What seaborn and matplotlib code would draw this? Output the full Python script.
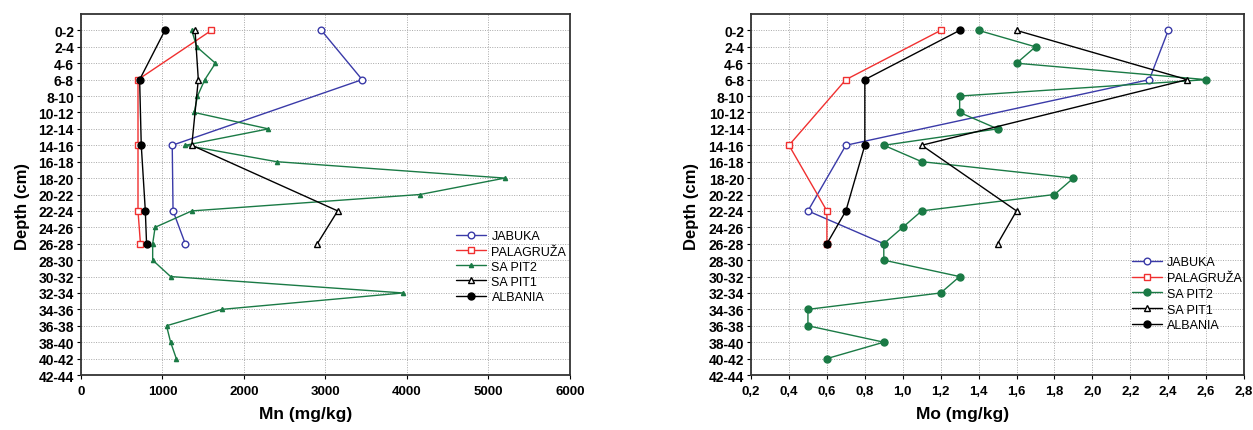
import numpy as np
import pandas as pd
import matplotlib
matplotlib.use("Agg")
import matplotlib.pyplot as plt
import seaborn as sns

# Depth intervals (cm), top to bottom
depths = ["0-2", "2-4", "4-6", "6-8", "8-10", "10-12", "12-14", "14-16",
          "16-18", "18-20", "20-22", "22-24", "24-26", "26-28", "28-30",
          "30-32", "32-34", "34-36", "36-38", "38-40", "40-42", "42-44"]

# Cores sampled at selected depths only
core_depths = ["0-2", "6-8", "14-16", "22-24", "26-28"]

# Mn (mg/kg)
mn_jabuka = [2950, 3450, 1120, 1130, 1280]
mn_palagruza = [1600, 700, 700, 700, 730]
mn_sapit1 = [1400, 1440, 1360, 3150, 2900]
mn_albania = [1030, 720, 740, 790, 805]
mn_sapit2 = [1360, 1420, 1650, 1520, 1430, 1390, 2300, 1280, 2400, 5200,
             4160, 1360, 910, 880, 880, 1100, 3950, 1730, 1050, 1100, 1170]

# Mo (mg/kg)
mo_jabuka = [2.4, 2.3, 0.7, 0.5, 0.9]
mo_palagruza = [1.2, 0.7, 0.4, 0.6, 0.6]
mo_sapit1 = [1.6, 2.5, 1.1, 1.6, 1.5]
mo_albania = [1.3, 0.8, 0.8, 0.7, 0.6]
mo_sapit2 = [1.4, 1.7, 1.6, 2.6, 1.3, 1.3, 1.5, 0.9, 1.1, 1.9,
             1.8, 1.1, 1.0, 0.9, 0.9, 1.3, 1.2, 0.5, 0.5, 0.9, 0.6]

sns.set_theme(style="ticks")
plt.rcParams["font.family"] = ["Liberation Sans", "DejaVu Sans"]
plt.rcParams["text.color"] = "black"
plt.rcParams["axes.labelcolor"] = "black"

pos = {d: i for i, d in enumerate(depths)}
sapit2_depths = depths[:len(mn_sapit2)]

BLUE = "#3a3aa8"
RED = "#f03030"
GREEN = "#1a7a45"
BLACK = "#000000"


def series_frame(names, values):
    return pd.DataFrame({"depth": [pos[n] for n in names], "value": values})


def draw_panel(ax, jab, pal, sp2, sp1, alb, sp2_marker, sp2_ms):
    specs = [
        ("JABUKA", core_depths, jab, BLUE, "o", "white", 4.8),
        ("PALAGRUŽA", core_depths, pal, RED, "s", "white", 4.5),
        ("SA PIT2", sapit2_depths, sp2, GREEN, sp2_marker, GREEN, sp2_ms),
        ("SA PIT1", core_depths, sp1, BLACK, "^", "white", 4.5),
        ("ALBANIA", core_depths, alb, BLACK, "o", BLACK, 5),
    ]
    for label, names, vals, col, mk, mfc, ms in specs:
        df = series_frame(names, vals)
        sns.lineplot(data=df, x="value", y="depth", sort=False, estimator=None,
                     ax=ax, color=col, lw=1.0, marker=mk, markersize=ms,
                     markerfacecolor=mfc, markeredgecolor=col,
                     markeredgewidth=1.0, label=label)
    ax.set_ylim(len(depths) - 1, -1)
    ax.set_yticks(range(len(depths)))
    ax.set_yticklabels(depths)
    ax.grid(True, color="#a8a8a8", linestyle=(0, (1, 1.5)), linewidth=0.7)
    ax.set_axisbelow(True)
    for sp in ax.spines.values():
        sp.set_visible(True)
        sp.set_color("#333333")
        sp.set_linewidth(1.3)
    ax.tick_params(axis="both", length=3, width=0.8, direction="out", pad=2,
                   colors="black")
    ax.tick_params(axis="y", labelsize=10)
    ax.tick_params(axis="x", labelsize=9.5, pad=4)
    for t in ax.get_xticklabels() + ax.get_yticklabels():
        t.set_fontweight("bold")
    ax.set_ylabel("Depth (cm)", fontsize=12, fontweight="bold")
    ax.yaxis.set_label_coords(-0.105, 0.47)


fig = plt.figure(figsize=(12.53, 4.31), dpi=100)
ax1 = fig.add_axes([0.0646, 0.1276, 0.3903, 0.8376])
ax2 = fig.add_axes([0.5994, 0.1276, 0.3935, 0.8376])

draw_panel(ax1, mn_jabuka, mn_palagruza, mn_sapit2, mn_sapit1, mn_albania, "^", 3)
ax1.set_xlim(0, 6000)
ax1.set_xticks(np.arange(0, 6001, 1000))
for t in ax1.get_xticklabels():
    t.set_fontweight("bold")
ax1.set_xlabel("Mn (mg/kg)", fontsize=12.5, fontweight="bold")
ax1.xaxis.set_label_coords(0.46, -0.085)
ax1.legend(loc="center left", bbox_to_anchor=(0.75, 0.30), frameon=False,
           fontsize=9, handlelength=2.4, labelspacing=0.25, handletextpad=0.4,
           borderpad=0.2)

draw_panel(ax2, mo_jabuka, mo_palagruza, mo_sapit2, mo_sapit1, mo_albania, "o", 5)
ax2.set_xlim(0.2, 2.8)
xt = np.round(np.arange(0.2, 2.81, 0.2), 1)
ax2.set_xticks(xt)
ax2.set_xticklabels([f"{v:.1f}".replace(".", ",") for v in xt], fontweight="bold")
ax2.set_xlabel("Mo (mg/kg)", fontsize=12.5, fontweight="bold")
ax2.xaxis.set_label_coords(0.428, -0.085)
ax2.legend(loc="center left", bbox_to_anchor=(0.755, 0.225), frameon=False,
           fontsize=9, handlelength=2.4, labelspacing=0.3, handletextpad=0.4,
           borderpad=0.2)

fig.savefig("out.png", dpi=100)
